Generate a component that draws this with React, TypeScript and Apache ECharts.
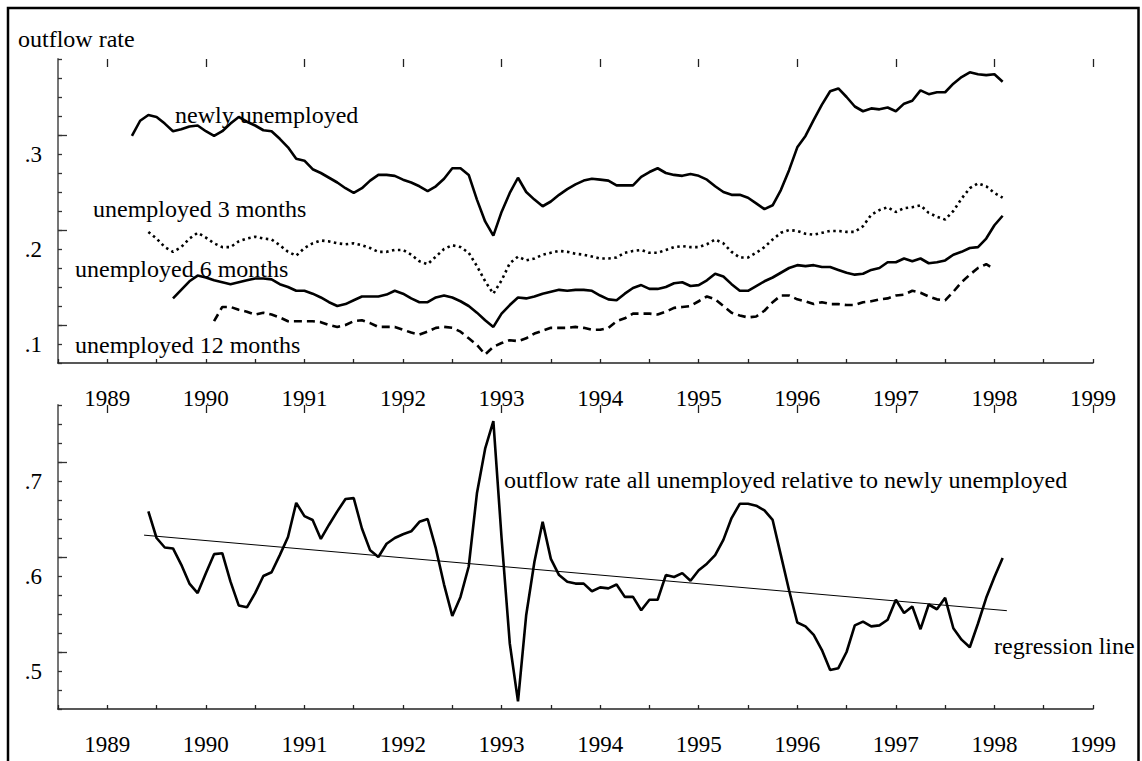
import React, { useEffect, useRef } from "react";
import * as echarts from "echarts";

// Monthly observations, first month = April 1989
const START_YEAR = 1989;
const START_MONTH = 4;

// outflow rate, newly unemployed (from Apr 1989)
const NEWLY_OFFSET = 0;
const NEWLY = [
  0.319, 0.335, 0.341, 0.339, 0.332, 0.324, 0.326, 0.329, 0.330, 0.324,
  0.319, 0.324, 0.332, 0.339, 0.334, 0.330, 0.325, 0.324, 0.316, 0.307,
  0.295, 0.293, 0.284, 0.280, 0.275, 0.270, 0.264, 0.259, 0.264, 0.272,
  0.278, 0.278, 0.277, 0.273, 0.270, 0.266, 0.261, 0.266, 0.274, 0.285,
  0.285, 0.278, 0.252, 0.229, 0.214, 0.239, 0.259, 0.275, 0.260, 0.252,
  0.245, 0.250, 0.257, 0.263, 0.268, 0.272, 0.274, 0.273, 0.272, 0.267,
  0.267, 0.267, 0.276, 0.281, 0.285, 0.280, 0.278, 0.277, 0.279, 0.277,
  0.273, 0.266, 0.260, 0.257, 0.257, 0.254, 0.248, 0.242, 0.246, 0.262,
  0.283, 0.307, 0.319, 0.336, 0.352, 0.366, 0.369, 0.360, 0.350, 0.345,
  0.348, 0.347, 0.349, 0.345, 0.353, 0.356, 0.367, 0.363, 0.365, 0.365,
  0.374, 0.381, 0.386, 0.384, 0.383, 0.384, 0.376,
];

// unemployed 3 months (from Jun 1989)
const THREE_OFFSET = 2;
const THREE = [
  0.218, 0.211, 0.202, 0.197, 0.202, 0.211, 0.217, 0.212, 0.206, 0.202,
  0.202, 0.208, 0.211, 0.213, 0.211, 0.210, 0.204, 0.197, 0.193, 0.201,
  0.206, 0.209, 0.208, 0.206, 0.205, 0.206, 0.204, 0.201, 0.197, 0.197,
  0.199, 0.199, 0.194, 0.187, 0.184, 0.192, 0.200, 0.204, 0.202, 0.196,
  0.182, 0.166, 0.153, 0.167, 0.185, 0.192, 0.188, 0.190, 0.194, 0.196,
  0.198, 0.197, 0.195, 0.194, 0.192, 0.190, 0.190, 0.191, 0.196, 0.198,
  0.199, 0.196, 0.196, 0.199, 0.202, 0.203, 0.202, 0.202, 0.205, 0.210,
  0.206, 0.197, 0.191, 0.191, 0.196, 0.202, 0.210, 0.217, 0.220, 0.219,
  0.216, 0.215, 0.217, 0.219, 0.219, 0.218, 0.218, 0.224, 0.236, 0.241,
  0.244, 0.239, 0.243, 0.244, 0.246, 0.238, 0.234, 0.231, 0.240, 0.253,
  0.264, 0.269, 0.266, 0.259, 0.254,
];

// unemployed 6 months (from Sep 1989)
const SIX_OFFSET = 5;
const SIX = [
  0.148, 0.157, 0.166, 0.172, 0.170, 0.167, 0.165, 0.163, 0.165, 0.167,
  0.169, 0.169, 0.168, 0.163, 0.160, 0.156, 0.156, 0.153, 0.149, 0.144,
  0.140, 0.142, 0.146, 0.150, 0.150, 0.150, 0.152, 0.156, 0.153, 0.148,
  0.144, 0.144, 0.149, 0.151, 0.149, 0.145, 0.140, 0.133, 0.125, 0.118,
  0.132, 0.141, 0.149, 0.148, 0.150, 0.153, 0.155, 0.157, 0.156, 0.157,
  0.157, 0.156, 0.151, 0.147, 0.146, 0.153, 0.159, 0.162, 0.158, 0.158,
  0.160, 0.164, 0.165, 0.161, 0.162, 0.167, 0.174, 0.171, 0.163, 0.156,
  0.156, 0.161, 0.166, 0.170, 0.175, 0.180, 0.183, 0.182, 0.183, 0.181,
  0.181, 0.178, 0.175, 0.173, 0.174, 0.178, 0.180, 0.186, 0.186, 0.190,
  0.187, 0.190, 0.185, 0.186, 0.188, 0.194, 0.197, 0.201, 0.202, 0.211,
  0.225, 0.235,
];

// unemployed 12 months (from Feb 1990)
const TWELVE_OFFSET = 10;
const TWELVE = [
  0.124, 0.139, 0.139, 0.136, 0.134, 0.131, 0.133, 0.131, 0.128, 0.124,
  0.124, 0.124, 0.124, 0.123, 0.120, 0.118, 0.120, 0.124, 0.125, 0.122,
  0.118, 0.118, 0.118, 0.115, 0.112, 0.110, 0.113, 0.117, 0.118, 0.117,
  0.113, 0.106, 0.099, 0.089, 0.097, 0.101, 0.104, 0.103, 0.106, 0.111,
  0.114, 0.117, 0.117, 0.117, 0.118, 0.117, 0.115, 0.115, 0.117, 0.124,
  0.127, 0.132, 0.132, 0.132, 0.131, 0.134, 0.138, 0.139, 0.140, 0.145,
  0.150, 0.147, 0.140, 0.133, 0.130, 0.128, 0.129, 0.135, 0.144, 0.151,
  0.151, 0.147, 0.145, 0.142, 0.144, 0.142, 0.142, 0.141, 0.141, 0.144,
  0.145, 0.147, 0.148, 0.151, 0.152, 0.156, 0.154, 0.150, 0.147, 0.146,
  0.155, 0.165, 0.173, 0.180, 0.184, 0.179,
];

// outflow rate all unemployed relative to newly unemployed (from Jun 1989)
const RATIO_OFFSET = 2;
const RATIO = [
  0.668, 0.640, 0.630, 0.629, 0.612, 0.592, 0.582, 0.603, 0.623, 0.624,
  0.594, 0.569, 0.567, 0.582, 0.600, 0.604, 0.622, 0.641, 0.677, 0.663,
  0.659, 0.639, 0.654, 0.668, 0.681, 0.682, 0.650, 0.627, 0.620, 0.634,
  0.640, 0.644, 0.647, 0.657, 0.660, 0.629, 0.591, 0.558, 0.578, 0.610,
  0.687, 0.734, 0.763, 0.640, 0.529, 0.468, 0.559, 0.615, 0.657, 0.618,
  0.601, 0.594, 0.592, 0.592, 0.584, 0.588, 0.587, 0.591, 0.578, 0.578,
  0.564, 0.575, 0.575, 0.601, 0.599, 0.603, 0.595, 0.606, 0.613, 0.622,
  0.638, 0.661, 0.676, 0.676, 0.674, 0.669, 0.659, 0.622, 0.585, 0.551,
  0.547, 0.538, 0.522, 0.501, 0.503, 0.520, 0.548, 0.552, 0.547, 0.548,
  0.554, 0.575, 0.561, 0.568, 0.544, 0.570, 0.565, 0.577, 0.545, 0.533,
  0.525, 0.550, 0.577, 0.599, 0.619,
];

// regression line end points
const REG_X = [1989.373, 1998.126];
const REG_Y = [0.643, 0.5635];

// axes
const YEAR_LABELS = [1989, 1990, 1991, 1992, 1993, 1994, 1995, 1996, 1997, 1998, 1999];
const TOP_Y_LABELS = [0.1, 0.2, 0.3];
const TOP_Y_MAJOR = [0.12, 0.22, 0.32];
const BOT_Y_LABELS = [0.5, 0.6, 0.7];
const BOT_Y_MAJOR = [0.52, 0.62, 0.72];

const FONT = '"Liberation Serif", "Times New Roman", Times, serif';

function toPoints(values: number[], offset: number) {
  const t0 = START_YEAR + (START_MONTH - 1) / 12;
  return values.map((v, k) => [t0 + (offset + k) / 12, v]);
}

function steps(min: number, max: number, step: number) {
  const out: number[] = [];
  const n = Math.round((max - min) / step);
  for (let k = 0; k <= n; k++) out.push(+(min + k * step).toFixed(4));
  return out;
}

export default function App() {
  const ref = useRef<HTMLDivElement>(null);

  useEffect(() => {
    if (!ref.current) return;
    const chart = echarts.init(ref.current, null, { renderer: "svg" });

    const axisCol = "#333";
    const xMin = 1988.5;
    const xMax = 1999;
    const halfYears = steps(xMin, xMax, 0.5);

    const xPrimary = (gridIndex: number) => ({
      type: "value",
      gridIndex,
      min: xMin,
      max: xMax,
      interval: 0.5,
      axisLine: { show: true, lineStyle: { color: "#222", width: 1.5 } },
      axisTick: {
        show: true,
        inside: true,
        length: 4,
        customValues: halfYears,
        lineStyle: { color: "#222", width: 1.3 },
      },
      axisLabel: {
        show: true,
        customValues: YEAR_LABELS,
        formatter: (v: number) => String(Math.round(v)),
        fontFamily: FONT,
        fontSize: 23,
        color: "#000",
        margin: 24,
      },
      splitLine: { show: false },
    });
    const xMajor = (gridIndex: number) => ({
      type: "value",
      gridIndex,
      min: xMin,
      max: xMax,
      interval: 0.5,
      axisLine: { show: false },
      axisTick: {
        show: true,
        inside: true,
        length: 8,
        customValues: YEAR_LABELS,
        lineStyle: { color: "#222", width: 1.3 },
      },
      axisLabel: { show: false },
      splitLine: { show: false },
    });
    const yPrimary = (gridIndex: number, min: number, max: number, labels: number[]) => ({
      type: "value",
      gridIndex,
      position: "left",
      min,
      max,
      interval: 0.02,
      axisLine: { show: true, lineStyle: { color: "#666", width: 1.8 } },
      axisTick: {
        show: true,
        inside: true,
        length: 4,
        customValues: steps(min, max, 0.02),
        lineStyle: { color: axisCol, width: 1.3 },
      },
      axisLabel: {
        show: true,
        customValues: labels,
        formatter: (v: number) => v.toFixed(1).replace(/^0/, ""),
        fontFamily: FONT,
        fontSize: 23,
        color: "#000",
        margin: 16,
      },
      splitLine: { show: false },
    });
    const yMajor = (gridIndex: number, min: number, max: number, ticks: number[]) => ({
      type: "value",
      gridIndex,
      position: "left",
      offset: 0,
      min,
      max,
      interval: 0.02,
      axisLine: { show: false },
      axisTick: {
        show: true,
        inside: true,
        length: 9,
        customValues: ticks,
        lineStyle: { color: axisCol, width: 1.3 },
      },
      axisLabel: { show: false },
      splitLine: { show: false },
    });

    const lineBase = {
      type: "line",
      showSymbol: false,
      symbol: "none",
      silent: true,
      connectNulls: false,
    };

    const text = (t: string, x: number, y: number) => ({
      type: "text",
      x,
      y,
      silent: true,
      style: {
        text: t,
        font: `24px ${FONT}`,
        fill: "#000",
        align: "left",
        verticalAlign: "middle",
        textAlign: "left",
        textVerticalAlign: "middle",
      },
    });

    chart.setOption({
      animation: false,
      backgroundColor: "#fff",
      grid: [
        { left: 58, top: 59, width: 1035, height: 304 },
        { left: 58, top: 405, width: 1035, height: 304 },
      ],
      xAxis: [xPrimary(0), xMajor(0), xPrimary(1), xMajor(1)],
      yAxis: [
        yPrimary(0, 0.08, 0.4, TOP_Y_LABELS),
        yMajor(0, 0.08, 0.4, TOP_Y_MAJOR),
        yPrimary(1, 0.46, 0.78, BOT_Y_LABELS),
        yMajor(1, 0.46, 0.78, BOT_Y_MAJOR),
      ],
      series: [
        {
          ...lineBase,
          name: "newly unemployed",
          xAxisIndex: 0,
          yAxisIndex: 0,
          data: toPoints(NEWLY, NEWLY_OFFSET),
          lineStyle: { color: "#000", width: 2.6 },
        },
        {
          ...lineBase,
          name: "unemployed 3 months",
          xAxisIndex: 0,
          yAxisIndex: 0,
          data: toPoints(THREE, THREE_OFFSET),
          lineStyle: { color: "#000", width: 2.6, type: [2.5, 3.5] },
        },
        {
          ...lineBase,
          name: "unemployed 6 months",
          xAxisIndex: 0,
          yAxisIndex: 0,
          data: toPoints(SIX, SIX_OFFSET),
          lineStyle: { color: "#000", width: 2.6 },
        },
        {
          ...lineBase,
          name: "unemployed 12 months",
          xAxisIndex: 0,
          yAxisIndex: 0,
          data: toPoints(TWELVE, TWELVE_OFFSET),
          lineStyle: { color: "#000", width: 2.6, type: [8, 5] },
        },
        {
          ...lineBase,
          name: "relative outflow rate",
          xAxisIndex: 2,
          yAxisIndex: 2,
          data: toPoints(RATIO, RATIO_OFFSET),
          lineStyle: { color: "#000", width: 2.6 },
        },
        {
          ...lineBase,
          name: "regression line",
          xAxisIndex: 2,
          yAxisIndex: 2,
          data: REG_X.map((x, k) => [x, REG_Y[k]]),
          lineStyle: { color: "#000", width: 1 },
        },
      ],
      graphic: [
        {
          type: "rect",
          silent: true,
          shape: { x: 8, y: 8, width: 1130.5, height: 800 },
          style: { fill: "none", stroke: "#000", lineWidth: 2.5 },
        },
        text("outflow rate", 18, 38.5),
        text("newly unemployed", 175, 114.5),
        text("unemployed 3 months", 93, 209),
        text("unemployed 6 months", 75, 268.5),
        text("unemployed 12 months", 75, 345),
        text("outflow rate all unemployed relative to newly unemployed", 504, 479.5),
        text("regression line", 994, 645.5),
      ],
    });

    return () => {
      chart.dispose();
    };
  }, []);

  return (
    <div
      ref={ref}
      style={{
        position: "fixed",
        left: 0,
        top: 0,
        width: "1142px",
        height: "761px",
        background: "#fff",
      }}
    />
  );
}
